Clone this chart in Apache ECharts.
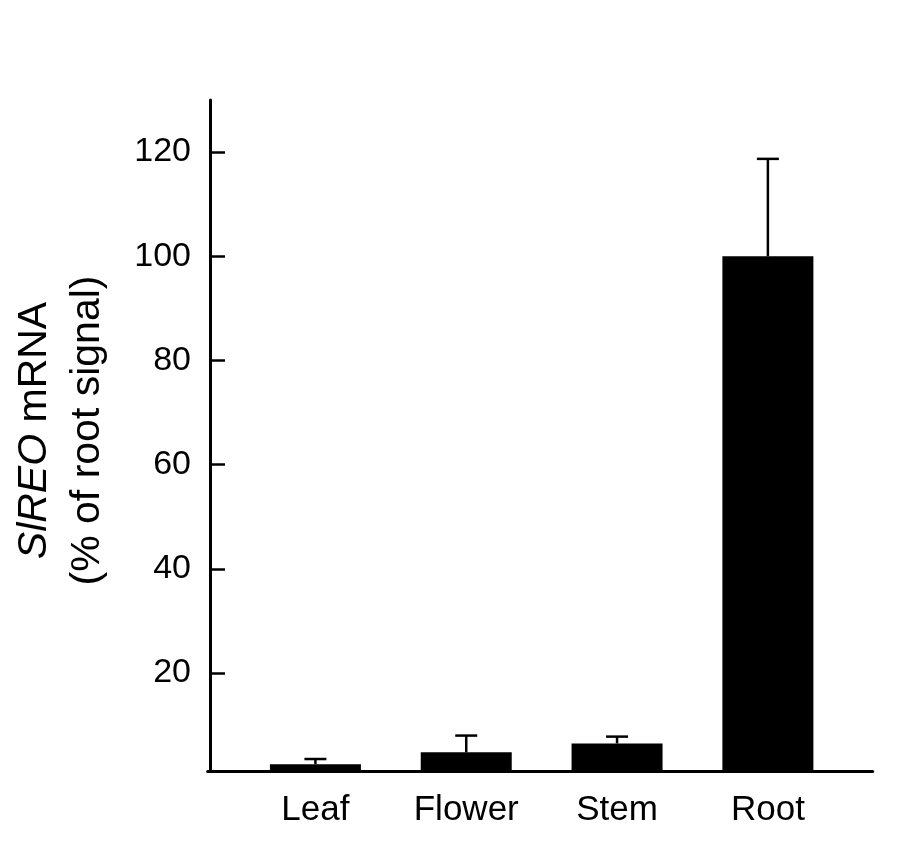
<!DOCTYPE html>
<html>
<head>
<meta charset="utf-8">
<script src="https://cdn.jsdelivr.net/npm/echarts@6/dist/echarts.min.js"></script>
<style>
  html, body { margin: 0; padding: 0; background: #fff; }
  #chart { width: 911px; height: 852px; }
</style>
</head>
<body>
<div id="chart"></div>
<script>
// data
var tissues = ['Leaf', 'Flower', 'Stem', 'Root']
var signal = [2.5, 4.8, 6.5, 100]
var errTop = [3.5, 8.0, 7.8, 118.7]
var yTicks = [20, 40, 60, 80, 100, 120]

var font = 'Liberation Sans, Arial, sans-serif'

var chart = echarts.init(document.getElementById('chart'))

chart.setOption({
  backgroundColor: '#fff',
  animation: false,
  grid: [
    // bars
    { left: 237.7, top: 100, width: 605.6, height: 671 },
    // only for the long x axis line
    { left: 207.7, top: 100, width: 665, height: 671 }
  ],
  xAxis: [{
    type: 'category',
    gridIndex: 0,
    data: tissues,
    axisLine: { show: false },
    axisTick: { show: false },
    axisLabel: { color: '#000', fontFamily: font, fontSize: 35, margin: 22 }
  }, {
    type: 'value',
    gridIndex: 1,
    min: 0,
    max: 1,
    axisLine: { show: true, lineStyle: { color: '#000', width: 3 } },
    axisTick: { show: false },
    axisLabel: { show: false },
    splitLine: { show: false }
  }],
  yAxis: [{
    type: 'value',
    gridIndex: 0,
    min: 1.2,
    max: 130,
    offset: 30,
    name: '{i|SlREO} mRNA\n(% of root signal)',
    nameLocation: 'middle',
    nameGap: 96,
    nameRotate: 90,
    nameTextStyle: {
      color: '#000',
      fontFamily: font,
      fontSize: 41,
      lineHeight: 53,
      padding: [0, 0, 0, 10],
      rich: {
        i: { fontStyle: 'italic', fontFamily: font, fontSize: 41, color: '#000' }
      }
    },
    axisLine: { show: true, lineStyle: { color: '#000', width: 3 } },
    axisTick: {
      show: true, inside: true, length: 15,
      customValues: yTicks,
      lineStyle: { color: '#000', width: 2.5 }
    },
    axisLabel: {
      color: '#000', fontFamily: font, fontSize: 34, margin: 19,
      customValues: yTicks
    },
    splitLine: { show: false }
  }, {
    type: 'value',
    gridIndex: 1,
    min: 0,
    max: 1,
    show: false
  }],
  series: [{
    name: 'mRNA',
    type: 'bar',
    xAxisIndex: 0,
    yAxisIndex: 0,
    data: signal,
    barWidth: 91,
    itemStyle: { color: '#000' }
  }, {
    // error bars, upper side only
    type: 'custom',
    xAxisIndex: 0,
    yAxisIndex: 0,
    z: 1,
    data: tissues.map(function (t, i) { return [i, signal[i], errTop[i]] }),
    renderItem: function (params, api) {
      var base = api.coord([api.value(0), api.value(1)])
      var top = api.coord([api.value(0), api.value(2)])
      var half = 11
      var style = { stroke: '#000', lineWidth: 2.5 }
      return {
        type: 'group',
        children: [
          { type: 'line', shape: { x1: top[0], y1: base[1], x2: top[0], y2: top[1] }, style: style },
          { type: 'line', shape: { x1: top[0] - half, y1: top[1], x2: top[0] + half, y2: top[1] }, style: style }
        ]
      }
    }
  }]
})
</script>
</body>
</html>
